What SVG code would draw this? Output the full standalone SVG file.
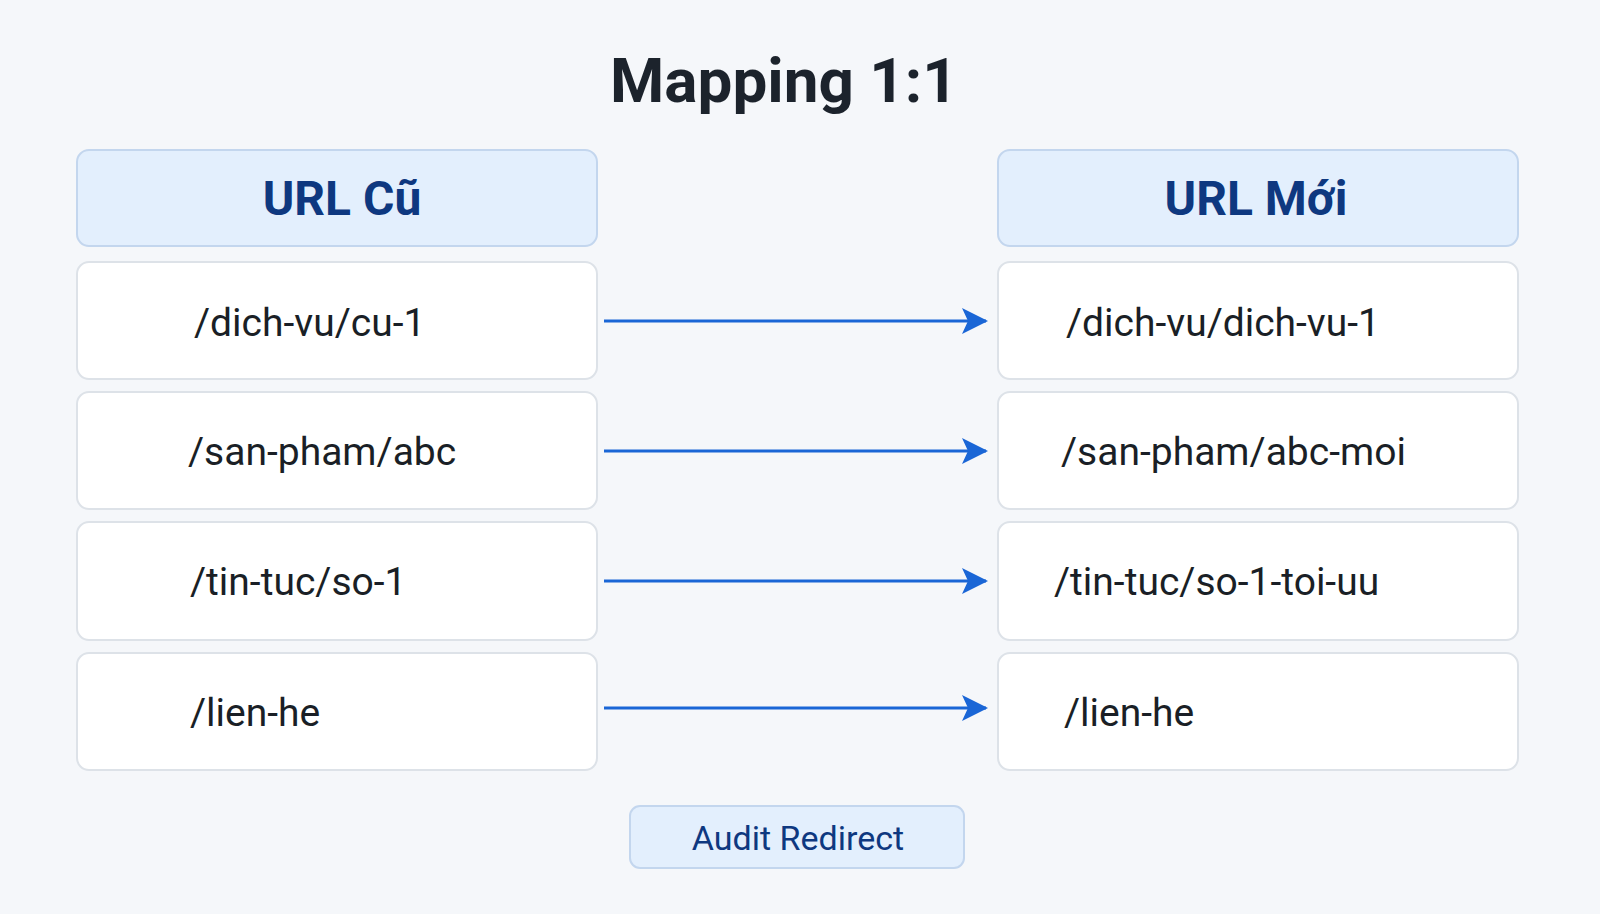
<svg xmlns="http://www.w3.org/2000/svg" width="1600" height="914" viewBox="0 0 1600 914">
<defs>
<style>
.bg{fill:#f5f7fa}
.hdr{fill:#e3effd;stroke:#c3d6ee;stroke-width:2}
.row{fill:#ffffff;stroke:#dde2e8;stroke-width:2}
.title{font-family:Roboto,"Liberation Sans",sans-serif;font-weight:700;font-size:62px;fill:#1c232c}
.htxt{font-family:Roboto,"Liberation Sans",sans-serif;font-weight:700;font-size:48px;fill:#0e3880}
.rtxt{font-family:Roboto,"Liberation Sans",sans-serif;font-size:39px;fill:#1a1f26}
.btxt{font-family:Roboto,"Liberation Sans",sans-serif;font-weight:400;font-size:34px;fill:#0e3880}
.arrow{stroke:#1a66d6;stroke-width:3;fill:none}
</style>
<marker id="ah" viewBox="0 0 26 26" refX="24" refY="13" markerWidth="26" markerHeight="26" markerUnits="userSpaceOnUse" orient="auto">
<path d="M0,0 L26,13 L0,26 L6,13 Z" fill="#1a66d6"/>
</marker>
</defs>
<rect class="bg" x="0" y="0" width="1600" height="914"/>
<g id="title"><text class="title" x="784" y="102" text-anchor="middle">Mapping 1:1</text></g>
<g id="hdr-old"><rect class="hdr" x="77" y="150" width="520" height="96" rx="12"/><text class="htxt" x="342" y="215" text-anchor="middle">URL Cũ</text></g>
<g id="hdr-new"><rect class="hdr" x="998" y="150" width="520" height="96" rx="12"/><text class="htxt" x="1256" y="215" text-anchor="middle">URL Mới</text></g>
<g id="old-1"><rect class="row" x="77" y="262" width="520" height="117" rx="12"/><text class="rtxt" x="194" y="336">/dich-vu/cu-1</text></g>
<g id="old-2"><rect class="row" x="77" y="392" width="520" height="117" rx="12"/><text class="rtxt" x="188" y="465">/san-pham/abc</text></g>
<g id="old-3"><rect class="row" x="77" y="522" width="520" height="118" rx="12"/><text class="rtxt" x="190" y="595">/tin-tuc/so-1</text></g>
<g id="old-4"><rect class="row" x="77" y="653" width="520" height="117" rx="12"/><text class="rtxt" x="190" y="726">/lien-he</text></g>
<g id="new-1"><rect class="row" x="998" y="262" width="520" height="117" rx="12"/><text class="rtxt" x="1066" y="336">/dich-vu/dich-vu-1</text></g>
<g id="new-2"><rect class="row" x="998" y="392" width="520" height="117" rx="12"/><text class="rtxt" x="1061" y="465">/san-pham/abc-moi</text></g>
<g id="new-3"><rect class="row" x="998" y="522" width="520" height="118" rx="12"/><text class="rtxt" x="1054" y="595">/tin-tuc/so-1-toi-uu</text></g>
<g id="new-4"><rect class="row" x="998" y="653" width="520" height="117" rx="12"/><text class="rtxt" x="1064" y="726">/lien-he</text></g>
<g id="connectors">
<line class="arrow" x1="604" y1="321" x2="986" y2="321" marker-end="url(#ah)"/>
<line class="arrow" x1="604" y1="451" x2="986" y2="451" marker-end="url(#ah)"/>
<line class="arrow" x1="604" y1="581" x2="986" y2="581" marker-end="url(#ah)"/>
<line class="arrow" x1="604" y1="708" x2="986" y2="708" marker-end="url(#ah)"/>
</g>
<g id="audit"><rect class="hdr" x="630" y="806" width="334" height="62" rx="10"/><text class="btxt" x="798" y="850" text-anchor="middle">Audit Redirect</text></g>
</svg>
